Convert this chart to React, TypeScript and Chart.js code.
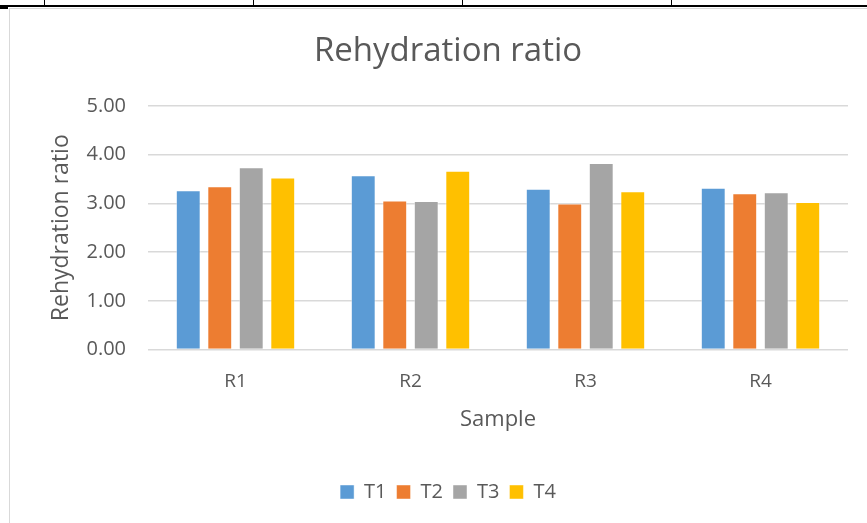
import React, { useEffect, useRef } from "react";
import { Chart, registerables } from "chart.js";

Chart.register(...registerables);

const categories = ["R1", "R2", "R3", "R4"];
const seriesNames = ["T1", "T2", "T3", "T4"];
const t1Values = [3.27, 3.58, 3.3, 3.32];
const t2Values = [3.35, 3.06, 3.0, 3.21];
const t3Values = [3.74, 3.05, 3.83, 3.23];
const t4Values = [3.53, 3.67, 3.25, 3.03];
const seriesColors = ["#5b9bd5", "#ed7d31", "#a5a5a5", "#ffc000"];
const yTicks = [0, 1, 2, 3, 4, 5];

const FONT = "'Open Sans', 'Noto Sans', sans-serif";
const TEXT = "#595959";

export default function App() {
  const ref = useRef<HTMLCanvasElement | null>(null);

  useEffect(() => {
    if (!ref.current) return;
    const values = [t1Values, t2Values, t3Values, t4Values];
    const chart = new Chart(ref.current, {
      type: "bar",
      data: {
        labels: categories,
        datasets: seriesNames.map((name, i) => ({
          label: name,
          data: values[i],
          backgroundColor: seriesColors[i],
          borderColor: "rgba(255,255,255,0.45)",
          borderWidth: 1,
          categoryPercentage: 0.72,
          barPercentage: 0.79,
        })),
      },
      options: {
        responsive: false,
        animation: false,
        devicePixelRatio: 1,
        layout: { padding: { left: 48, right: 19, top: 0, bottom: 11 } },
        plugins: {
          title: {
            display: true,
            text: "Rehydration ratio",
            color: TEXT,
            font: { family: FONT, size: 33, weight: "normal", lineHeight: 1.2 },
            padding: { top: 32.2, bottom: 34.2 },
          },
          legend: {
            position: "bottom",
            labels: {
              color: TEXT,
              font: { family: FONT, size: 20, lineHeight: 1.2 },
              boxWidth: 14,
              boxHeight: 14,
              padding: 10,
            },
          },
          tooltip: { enabled: false },
        },
        scales: {
          x: {
            grid: { display: false },
            border: { display: false },
            ticks: {
              color: TEXT,
              font: { family: FONT, size: 19 },
              padding: 13,
            },
            title: {
              display: true,
              text: "Sample",
              color: TEXT,
              font: { family: FONT, size: 22, lineHeight: 1.2 },
              padding: { top: 0, bottom: 39 },
            },
            afterFit: (scale: any) => {
              scale.height = 122.5;
            },
          },
          y: {
            min: 0,
            max: 5,
            afterBuildTicks: (scale: any) => {
              scale.ticks = yTicks.map((v) => ({ value: v }));
            },
            grid: { color: "#d9d9d9", lineWidth: 1.5, drawTicks: false },
            border: { display: false },
            ticks: {
              color: TEXT,
              font: { family: FONT, size: 20 },
              padding: 22,
              callback: (v: any) => Number(v).toFixed(2),
            },
            title: {
              display: true,
              text: "Rehydration ratio",
              color: TEXT,
              font: { family: FONT, size: 23, lineHeight: 1.2 },
              padding: { top: 0, bottom: 0 },
            },
            afterFit: (scale: any) => {
              scale.width = 100;
            },
          },
        },
      },
    });
    return () => chart.destroy();
  }, []);

  return (
    <div style={{ position: "absolute", left: 0, top: 0, width: 867, height: 523, background: "#fff", overflow: "hidden" }}>
      <canvas ref={ref} width={867} height={523} style={{ position: "absolute", left: 0, top: 0 }} />
      <div style={{ position: "absolute", left: 0, top: 5, width: 867, height: 2, background: "#000" }} />
      {[44, 253, 462, 671].map((x) => (
        <div key={x} style={{ position: "absolute", left: x, top: 0, width: 1, height: 6, background: "#000" }} />
      ))}
      <div style={{ position: "absolute", left: 0, top: 7, width: 8, height: 2, background: "#000" }} />
      <div style={{ position: "absolute", left: 9, top: 8, width: 858, height: 1, background: "#d9d9d9" }} />
      <div style={{ position: "absolute", left: 9, top: 8, width: 1, height: 515, background: "#d9d9d9" }} />
    </div>
  );
}
